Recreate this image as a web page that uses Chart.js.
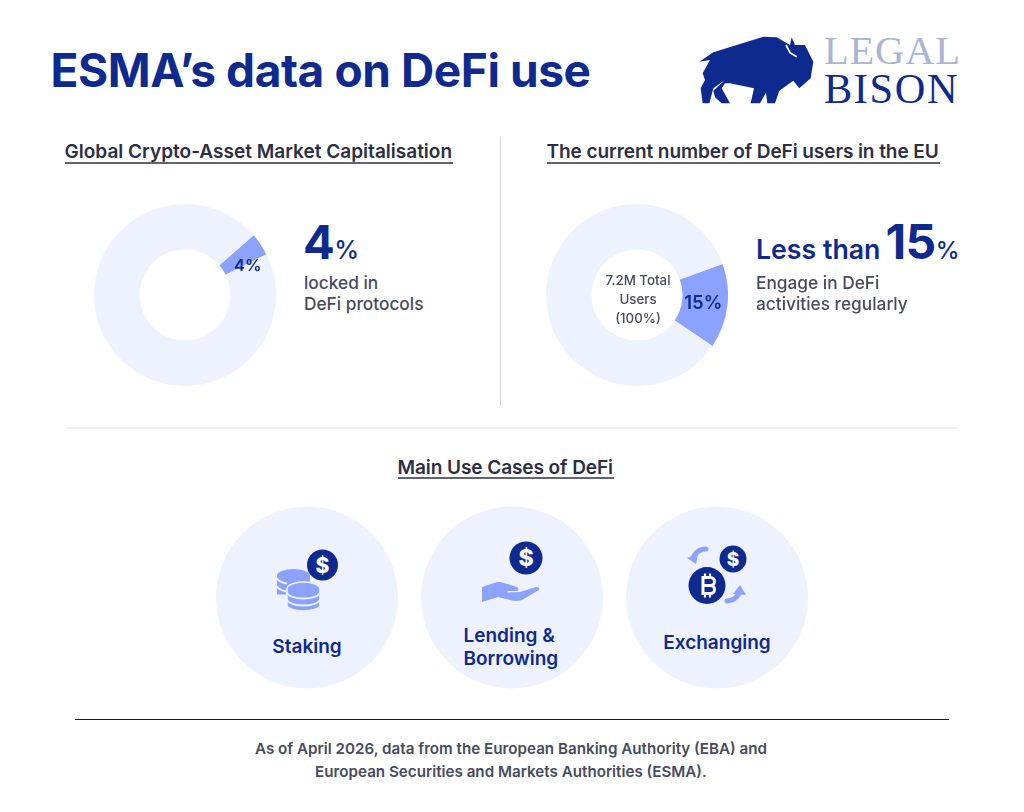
<!DOCTYPE html>
<html>
<head>
<meta charset="utf-8">
<script src="https://cdn.jsdelivr.net/npm/chart.js@4"></script>
<style>
  html, body { margin: 0; padding: 0; background: #fff; }
  body { width: 1024px; height: 812px; position: relative; overflow: hidden; font-family: Inter, sans-serif; }
  .t { position: absolute; white-space: nowrap; line-height: 1; }
  .blue { color: #0e2a8e; }
  .grey { color: #474b60; }
  .head { font-size: 19.05px; font-weight: 600; color: #2b2f45; }
  .sub { font-size: 17.3px; font-weight: 500; line-height: 21px; color: #474b60; }
  .case { font-size: 19px; font-weight: 600; color: #0e2a8e; text-align: center; line-height: 23px; transform: translateX(-50%); }
  .logo { font-family: 'Liberation Serif'; line-height: 0.85; }
  canvas { position: absolute; }
  #art { position: absolute; left: 0; top: 0; }
</style>
</head>
<body>
<svg id="art" width="1024" height="812" viewBox="0 0 1024 812">
  <!-- logo bison, traced in 3x zoom coords -->
  <g transform="translate(680 20) scale(0.3333)">
    <path fill="#0e2a8e" d="M58 125 L100 97 L250 50 L290 52 L330 75 L335 52 L345 75 L375 75 L400 125 L392 175 L358 205 L340 182 L298 212 L285 250 L262 250 L258 218 L240 250 L212 250 L222 205 L150 190 L135 190 L125 205 L150 250 L125 250 L105 232 L100 212 L135 180 L100 205 L88 250 L68 250 L62 205 L75 180 L68 160 L90 120 Z"/>
    <path fill="none" stroke="#fff" stroke-width="5" d="M318 75 L330 98 L350 110"/>
  </g>
  <line x1="500.5" y1="137" x2="500.5" y2="406" stroke="#d9dade"/>
  <line x1="67" y1="428" x2="957" y2="428" stroke="#dfe0e4"/>
  <line x1="75" y1="719.5" x2="949" y2="719.5" stroke="#1a1a1a"/>
  <line x1="65" y1="163" x2="453" y2="163" stroke="#2b2f45" stroke-width="1.4"/>
  <line x1="547" y1="163" x2="940" y2="163" stroke="#2b2f45" stroke-width="1.4"/>
  <line x1="398" y1="478" x2="614" y2="478" stroke="#2b2f45" stroke-width="1.4"/>
  <circle cx="307" cy="597.5" r="91" fill="#eef2ff"/>
  <circle cx="512" cy="597.5" r="91" fill="#eef2ff"/>
  <circle cx="717" cy="597.5" r="91" fill="#eef2ff"/>

  <!-- staking -->
  <g fill="#8ba3ff">
    <path d="M277 575.5 a16.5 6.5 0 0 1 33 0 v19 h-33 z"/>
    <path d="M287 589 a16.5 7 0 0 1 33 0 v16 a16.5 6 0 0 1 -33 0 z" stroke="#eef2ff" stroke-width="1.5"/>
  </g>
  <g fill="none" stroke="#eef2ff" stroke-width="1.8">
    <path d="M277 578 a16.5 6.5 0 0 0 10 5.5"/>
    <path d="M277 586 a16.5 6.5 0 0 0 10 5.5"/>
    <path d="M287 592 a16.5 6.5 0 0 0 33 0"/>
    <path d="M287 599 a16.5 6.5 0 0 0 33 0"/>
  </g>
  <circle cx="322.5" cy="565" r="15.5" fill="#0e2a8e"/>
  <text x="322.5" y="572.5" text-anchor="middle" font-family="Inter" font-weight="800" font-size="21" fill="#fff">$</text>

  <!-- lending -->
  <circle cx="526" cy="558" r="16.5" fill="#0e2a8e"/>
  <text x="526" y="566" text-anchor="middle" font-family="Inter" font-weight="800" font-size="23" fill="#fff">$</text>
  <path fill="#8ba3ff" d="M482 587 L494 583 Q499 581 504 583 L517 587 Q520 590 517 591 L508 591 L507 592.5 L520 592 L536 587 Q540 587 539 590 L522 600 Q516 602 510 600 L498 597 L482 602 Z"/>

  <!-- exchanging -->
  <circle cx="733" cy="559" r="13.5" fill="#0e2a8e"/>
  <text x="733" y="566" text-anchor="middle" font-family="Inter" font-weight="800" font-size="19" fill="#fff">$</text>
  <circle cx="707" cy="585.5" r="18.5" fill="#0e2a8e"/>
  <g fill="none" stroke="#fff" stroke-width="3">
    <path d="M703 577.5 h7.5 a3 3 0 0 1 0 8 h-7.5 z M703 585.5 h7.5 a3 3 0 0 1 0 8 h-7.5 z"/>
    <path d="M705 573.5 v3 M710 573.5 v3 M705 594.5 v3 M710 594.5 v3" stroke-width="2.2"/>
  </g>
  <g fill="none" stroke="#8ba3ff" stroke-width="5" stroke-linecap="round">
    <path d="M706 549 Q698 549 694 556"/>
    <path d="M727 601 Q736 600 739 593"/>
  </g>
  <path fill="#8ba3ff" d="M687 558 L698 554 L696 564 Z M733 594 L740 585 L746 595 Z"/>
</svg>

<div class="t blue" style="left:50.5px;top:47px;font-size:46px;font-weight:700;letter-spacing:-0.4px" id="title"></div>
<div class="t logo" style="left:824px;top:34px;font-size:40.5px;color:#a9b4d6;letter-spacing:0.8px">LEGAL</div>
<div class="t logo" style="left:824px;top:71px;font-size:42.4px;color:#0e2a8e;letter-spacing:1.6px">BISON</div>

<div class="t head" style="left:64.5px;top:142px" id="head1"></div>
<div class="t head" style="left:546.5px;top:142px;letter-spacing:-0.08px" id="head2"></div>
<div class="t head" style="left:397.5px;top:458px;letter-spacing:-0.08px" id="head3"></div>

<canvas id="capChart"></canvas>
<canvas id="usersChart"></canvas>

<div class="t blue" style="left:303px;top:218px;font-size:47px;font-weight:700">4<span style="font-size:25px;font-weight:500;margin-left:-0.5px">%</span></div>
<div class="t sub" style="left:304px;top:271.5px">locked in<br>DeFi protocols</div>

<div class="t blue" style="left:756px;top:218px;font-size:26.7px;font-weight:600"><span>Less than</span><span style="font-size:48px;font-weight:700;margin-left:5px;letter-spacing:-0.5px">15</span><span style="font-size:24px;font-weight:500">%</span></div>
<div class="t sub" style="left:756px;top:271.5px">Engage in DeFi<br>activities regularly</div>

<div class="t grey" style="left:604px;top:271px;width:68px;text-align:center;font-size:13.3px;font-weight:500;line-height:19px">7.2M Total<br>Users<br>(100%)</div>

<div class="t case" style="left:307px;top:635px">Staking</div>
<div class="t case" style="left:463.5px;top:624px;text-align:left;transform:none">Lending &amp;<br>Borrowing</div>
<div class="t case" style="left:717px;top:631px">Exchanging</div>

<div class="t grey" style="left:-1px;width:1024px;text-align:center;top:737px;font-size:15.2px;font-weight:600;line-height:23px;white-space:normal" id="note">As of April 2026, data from the European Banking Authority (EBA) and<br>European Securities and Markets Authorities (ESMA).</div>

<script>
const pageTitle = 'ESMA’s data on DeFi use';
const sectionTitles = ['Global Crypto-Asset Market Capitalisation', 'The current number of DeFi users in the EU', 'Main Use Cases of DeFi'];
const capLabels = ['Locked in DeFi protocols', 'Other'];
const capValues = [4, 96];
const userLabels = ['Engage regularly', 'Other users'];
const userValues = [15, 85];

document.getElementById('title').textContent = pageTitle;
sectionTitles.forEach((s, i) => { document.getElementById('head' + (i + 1)).textContent = s; });

const sliceColors = ['#8ba3ff', '#eef2ff'];

// prints the value of the first slice on top of it
const sliceLabel = {
  id: 'sliceLabel',
  afterDatasetsDraw(chart, args, opts) {
    const { ctx } = chart;
    const arc = chart.getDatasetMeta(0).data[0];
    const p = arc.tooltipPosition();
    ctx.save();
    ctx.font = '600 ' + opts.size + 'px Inter';
    ctx.fillStyle = '#0e2a8e';
    ctx.textAlign = 'center';
    ctx.textBaseline = 'middle';
    ctx.fillText(chart.data.datasets[0].data[0] + '%', p.x + opts.dx, p.y + opts.dy);
    ctx.restore();
  }
};

function makeDoughnut(id, left, labels, values, rotation, labelOpts) {
  const canvas = document.getElementById(id);
  canvas.style.left = left + 'px';
  canvas.style.top = '204px';
  canvas.width = 182;
  canvas.height = 182;
  return new Chart(canvas, {
    type: 'doughnut',
    data: { labels: labels, datasets: [{ data: values, backgroundColor: sliceColors, borderWidth: 0 }] },
    options: {
      responsive: false,
      animation: false,
      cutout: '50%',
      rotation: rotation,
      events: [],
      layout: { padding: 0 },
      plugins: { legend: { display: false }, tooltip: { enabled: false }, sliceLabel: labelOpts }
    },
    plugins: [sliceLabel]
  });
}

makeDoughnut('capChart', 94, capLabels, capValues, 49, { size: 16.5, dx: 6, dy: 9 });
makeDoughnut('usersChart', 546, userLabels, userValues, 70, { size: 18.5, dx: -1.5, dy: 0 });
</script>
</body>
</html>
